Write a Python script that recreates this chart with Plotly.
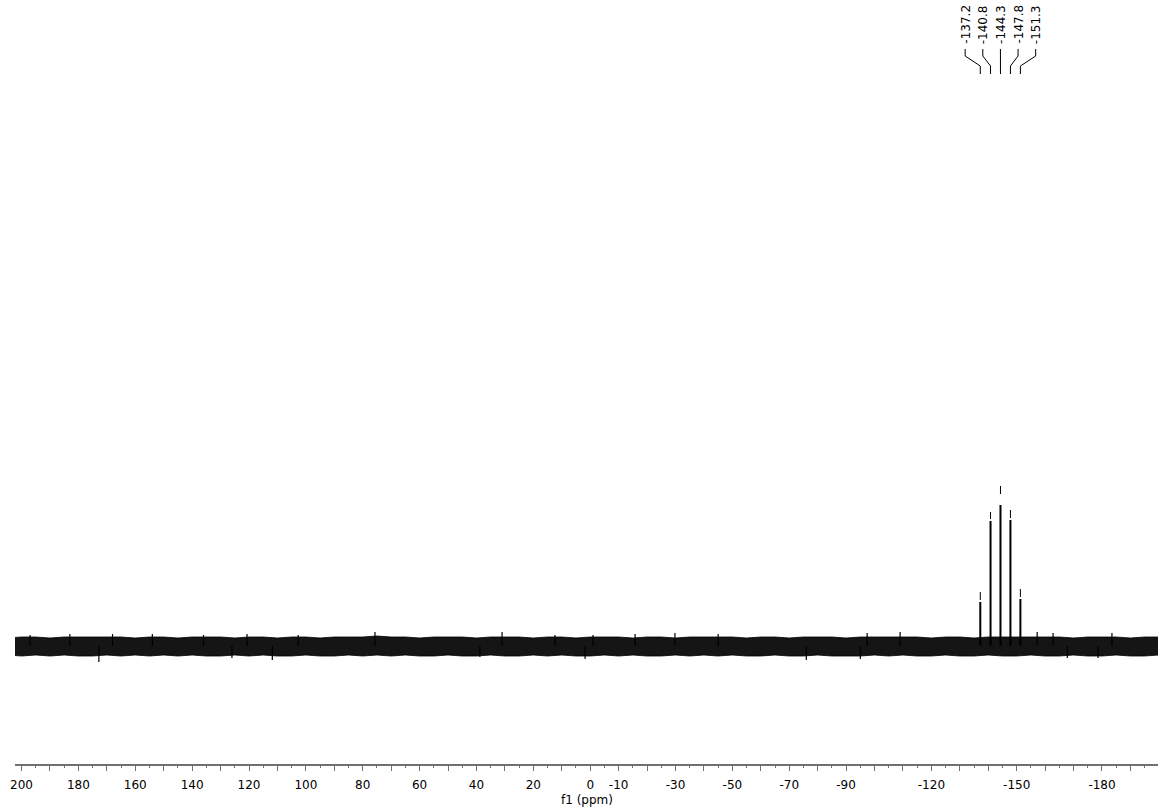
import plotly.graph_objects as go

# ---------------- data ----------------
peak_ppm = [-137.2, -140.8, -144.3, -147.8, -151.3]
peak_height = [44, 125, 141, 126, 47]
marker_bottom = [46, 127, 152, 128, 49]
marker_top = [54, 134, 160, 136, 57]
peak_labels = ["-137.2", "-140.8", "-144.3", "-147.8", "-151.3"]

# noise envelope (every 5 ppm, from 205 down to -200)
env_ppm = [205 - 5 * i for i in range(82)]
env_top = [8, 9, 9, 8, 9, 9, 9, 9, 9, 8, 9, 9, 8, 9, 9, 9, 8, 9, 9, 8,
           9, 9, 8, 9, 9, 9, 10, 9, 9, 8, 9, 9, 9, 8, 9, 9, 9, 8, 9, 9,
           8, 9, 9, 9, 8, 9, 9, 8, 9, 9, 9, 9, 8, 9, 9, 8, 9, 9, 9, 8,
           9, 9, 9, 9, 9, 8, 9, 9, 8, 9, 9, 9, 9, 9, 9, 8, 9, 9, 9, 8,
           9, 9]
env_bot = [-9, -10, -9, -10, -9, -10, -10, -9, -10, -9, -10, -9, -10, -9, -10, -10, -9, -10, -9, -10,
           -10, -9, -10, -10, -9, -10, -9, -10, -9, -10, -10, -9, -10, -10, -9, -10, -10, -9, -10, -9,
           -10, -10, -9, -10, -9, -10, -10, -9, -10, -9, -10, -9, -10, -10, -9, -10, -10, -9, -10, -10,
           -10, -9, -10, -9, -10, -10, -9, -10, -10, -9, -10, -10, -9, -10, -10, -9, -10, -10, -9, -10,
           -10, -9]

# isolated noise spikes
spike_ppm = [197, 183, 172.8, 168, 154, 136, 126, 120.7, 111.8, 102.7, 75.7, 38.8, 31,
             12.4, 1.8, -1, -15.8, -29.8, -45, -76, -95, -97.4, -109,
             -157.2, -162.8, -167.8, -178.6, -183.5]
spike_val = [11, 12, -16, 12, 12, 11, -12, 12, -14, 11, 14, -11, 14,
             11, -13, 11, 12, 13, 12, -14, -13, 13, 14,
             14, 13, -12, -12, 13]

tick_major = list(range(200, -191, -10))
tick_minor = list(range(195, -196, -10))
tick_label_values = [200, 180, 160, 140, 120, 100, 80, 60, 40, 20, 0,
                     -10, -30, -50, -70, -90, -120, -150, -180]
x_title = "f1 (ppm)"

# ---------------- figure ----------------
fig = go.Figure()

# baseline noise band
fig.add_trace(go.Scatter(
    x=env_ppm + env_ppm[::-1],
    y=env_top + env_bot[::-1],
    fill="toself", fillcolor="#151515",
    line=dict(color="#000000", width=0.8),
    mode="lines", hoverinfo="skip", showlegend=False))

# noise spikes
sx, sy = [], []
for p, v in zip(spike_ppm, spike_val):
    sx += [p, p, None]
    sy += [0, v, None]
fig.add_trace(go.Scatter(x=sx, y=sy, mode="lines",
                         line=dict(color="#000000", width=1.2),
                         hoverinfo="skip", showlegend=False))

# peaks
px, py = [], []
for p, h in zip(peak_ppm, peak_height):
    px += [p, p, None]
    py += [0, h, None]
fig.add_trace(go.Scatter(x=px, y=py, mode="lines",
                         line=dict(color="#000000", width=2),
                         hoverinfo="skip", showlegend=False))

# peak pick markers
mx, my = [], []
for p, lo, hi in zip(peak_ppm, marker_bottom, marker_top):
    mx += [p, p, None]
    my += [lo, hi, None]
fig.add_trace(go.Scatter(x=mx, y=my, mode="lines",
                         line=dict(color="#000000", width=1),
                         hoverinfo="skip", showlegend=False))

# label positions (spread) and connectors
center = sum(peak_ppm) / len(peak_ppm)
spacing = 6.2
n = len(peak_ppm)
label_ppm = [center + (i - (n - 1) / 2) * (-spacing) for i in range(n)]

cx, cy = [], []
for L, P in zip(label_ppm, peak_ppm):
    cx += [L, L, P, P, None]
    cy += [597, 590, 580, 572, None]
fig.add_trace(go.Scatter(x=cx, y=cy, mode="lines",
                         line=dict(color="#000000", width=1),
                         hoverinfo="skip", showlegend=False))

# invisible traces so that the helper axes are drawn
fig.add_trace(go.Scatter(x=[0], y=[None], xaxis="x2", yaxis="y",
                         mode="lines", hoverinfo="skip", showlegend=False))
fig.add_trace(go.Scatter(x=[0], y=[None], xaxis="x3", yaxis="y",
                         mode="lines", hoverinfo="skip", showlegend=False))

for L, t in zip(label_ppm, peak_labels):
    fig.add_annotation(x=L, y=643, xref="x", yref="y", text=t,
                       textangle=-90, showarrow=False,
                       xanchor="center", yanchor="top",
                       font=dict(family="DejaVu Sans", size=12, color="#000000"))

fig.add_annotation(x=0.5, y=-0.0465, xref="paper", yref="paper", text=x_title,
                   showarrow=False, xanchor="center", yanchor="middle",
                   font=dict(family="DejaVu Sans", size=12, color="#000000"))

ticktext = [str(v) if v in tick_label_values else "" for v in tick_major]
xr = [202.3, -199.7]

fig.update_layout(
    width=1158, height=807,
    margin=dict(l=15, r=0, t=0, b=43),
    paper_bgcolor="white", plot_bgcolor="white",
    showlegend=False,
    font=dict(family="DejaVu Sans", size=12, color="#000000"),
    xaxis=dict(
        range=xr,
        showgrid=False, zeroline=False,
        showline=True, linecolor="#707070", linewidth=1.5,
        ticks="outside", ticklen=5, tickwidth=1.2, tickcolor="#707070",
        tickvals=tick_major, showticklabels=False,
    ),
    xaxis2=dict(
        range=xr, overlaying="x", anchor="y", side="bottom",
        showgrid=False, zeroline=False, showline=False,
        ticks="outside", ticklen=3, tickwidth=1, tickcolor="#707070",
        tickvals=tick_minor, showticklabels=False,
    ),
    xaxis3=dict(
        range=xr, overlaying="x", anchor="y", side="bottom",
        showgrid=False, zeroline=False, showline=False,
        ticks="outside", ticklen=10, tickwidth=1, tickcolor="rgba(0,0,0,0)",
        tickvals=tick_major, ticktext=ticktext,
        tickfont=dict(family="DejaVu Sans", size=12, color="#000000"),
    ),
    yaxis=dict(range=[-118, 646], visible=False),
)

fig.write_html("out.html")
